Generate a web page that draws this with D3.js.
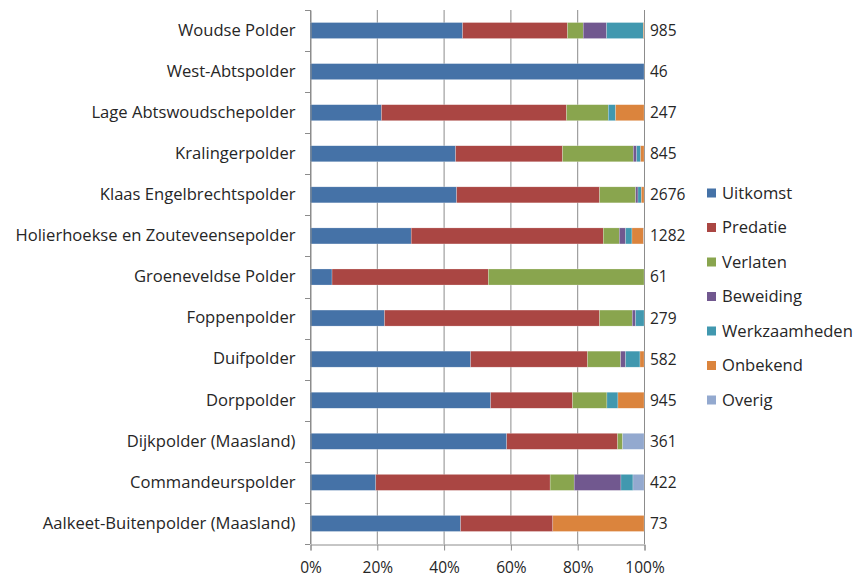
<!DOCTYPE html>
<html>
<head>
<meta charset="utf-8">
<script src="https://cdn.jsdelivr.net/npm/d3@7"></script>
<style>
  body { margin: 0; background: #fff; }
  svg text { font-family: "Open Sans", "DejaVu Sans", sans-serif; fill: #262626; }
</style>
</head>
<body>
<div id="chart"></div>
<script>
// categories, top to bottom
var polders = [
    'Woudse Polder', 'West-Abtspolder', 'Lage Abtswoudschepolder', 'Kralingerpolder',
    'Klaas Engelbrechtspolder', 'Holierhoekse en Zouteveensepolder', 'Groeneveldse Polder',
    'Foppenpolder', 'Duifpolder', 'Dorppolder', 'Dijkpolder (Maasland)',
    'Commandeurspolder', 'Aalkeet-Buitenpolder (Maasland)'
];
var totals = [985, 46, 247, 845, 2676, 1282, 61, 279, 582, 945, 361, 422, 73];

// percentage per series, same order as polders
var uitkomst      = [45.7, 100, 21.4, 43.6, 43.9, 30.3, 6.6, 22.3, 48.1, 54.1, 58.9, 19.7, 45.1];
var predatie      = [31.4, 0, 55.4, 32.0, 42.8, 57.5, 46.8, 64.4, 35.0, 24.5, 33.2, 52.2, 27.6];
var verlaten      = [4.7, 0, 12.5, 21.2, 10.8, 4.8, 46.6, 9.8, 9.9, 10.3, 1.5, 7.2, 0];
var beweiding     = [7.0, 0, 0, 1.0, 0.7, 1.9, 0, 1.0, 1.5, 0, 0, 14.0, 0];
var werkzaamheden = [11.0, 0, 2.2, 1.2, 1.0, 1.9, 0, 2.5, 4.3, 3.3, 0, 3.6, 0];
var onbekend      = [0.2, 0, 8.5, 1.0, 0.8, 3.5, 0, 0, 1.2, 7.8, 0, 0, 27.3];
var overig        = [0, 0, 0, 0, 0, 0.1, 0, 0, 0, 0, 6.4, 3.3, 0];

var seriesNames = ['Uitkomst', 'Predatie', 'Verlaten', 'Beweiding', 'Werkzaamheden', 'Onbekend', 'Overig'];
var seriesData = [uitkomst, predatie, verlaten, beweiding, werkzaamheden, onbekend, overig];
var colors = ['#4572a7', '#aa4643', '#89a54e', '#71588f', '#4198af', '#db843d', '#93a9cf'];
var xTicks = [0, 20, 40, 60, 80, 100];

var width = 865, height = 578;
var plotLeft = 310, plotRight = 644, plotTop = 10, plotBottom = 544;

//Build rows for the stack
var rows = polders.map(function (p, i) {
    var r = {polder: p};
    seriesNames.forEach(function (s, j) { r[s] = seriesData[j][i]; });
    return r;
});
var stack = d3.stack().keys(seriesNames)(rows);

var svg = d3.select('#chart').append('svg')
    .attr('width', width)
    .attr('height', height);

var x = d3.scaleLinear().domain([0, 100]).range([plotLeft, plotRight]);
var y = d3.scaleBand().domain(polders).range([plotTop, plotBottom]).paddingInner(0.61).paddingOuter(0.305);

//Vertical gridlines
svg.append('g')
    .selectAll('line')
    .data(xTicks)
    .enter()
    .append('line')
    .attr('x1', function (d) { return x(d) + 0.5; })
    .attr('x2', function (d) { return x(d) + 0.5; })
    .attr('y1', plotTop)
    .attr('y2', plotBottom)
    .attr('stroke', '#8c8c8c')
    .attr('stroke-width', 1);

//Bars
svg.append('g')
    .selectAll('g')
    .data(stack)
    .enter()
    .append('g')
    .attr('fill', function (d, i) { return colors[i]; })
    .selectAll('rect')
    .data(function (d) { return d; })
    .enter()
    .append('rect')
    .attr('x', function (d) { return x(d[0]); })
    .attr('width', function (d) { return Math.max(0, x(d[1]) - x(d[0])); })
    .attr('y', function (d) { return y(d.data.polder); })
    .attr('height', y.bandwidth())
    .attr('stroke', 'rgba(255,255,255,0.45)')
    .attr('stroke-width', 0.5);

//Y axis with category labels
var axisY = svg.append('g')
    .attr('transform', 'translate(' + (plotLeft + 0.5) + ',0)')
    .call(d3.axisLeft(y).tickSize(0).tickPadding(15));
axisY.select('.domain').attr('stroke', '#8c8c8c');
axisY.selectAll('text')
    .style('font-size', '16.6px')
    .attr('fill', '#262626');

//Tick marks between categories
var step = y.step();
svg.append('g')
    .selectAll('line')
    .data(d3.range(polders.length + 1))
    .enter()
    .append('line')
    .attr('x1', plotLeft - 5)
    .attr('x2', plotLeft)
    .attr('y1', function (d) { return Math.round(plotTop + d * step) + 0.5; })
    .attr('y2', function (d) { return Math.round(plotTop + d * step) + 0.5; })
    .attr('stroke', '#8c8c8c');

//X axis
var axisX = svg.append('g')
    .attr('transform', 'translate(0.5,' + (plotBottom + 0.5) + ')')
    .call(d3.axisBottom(x).tickValues(xTicks).tickSize(6).tickPadding(11)
        .tickFormat(function (d) { return d + '%'; }));
axisX.selectAll('line, .domain').attr('stroke', '#8c8c8c');
axisX.selectAll('text').style('font-size', '15.5px').attr('fill', '#262626');

//Totals to the right of the bars
svg.append('g')
    .selectAll('text')
    .data(totals)
    .enter()
    .append('text')
    .attr('x', plotRight + 6)
    .attr('y', function (d, i) { return y(polders[i]) + y.bandwidth() / 2; })
    .attr('dy', '0.35em')
    .style('font-size', '15.5px')
    .text(function (d) { return d; });

//Legend
var legend = svg.append('g')
    .attr('transform', 'translate(707,193)');
var item = legend.selectAll('g')
    .data(seriesNames)
    .enter()
    .append('g')
    .attr('transform', function (d, i) { return 'translate(0,' + (i * 34.5) + ')'; });
item.append('rect')
    .attr('x', 0)
    .attr('y', -4.5)
    .attr('width', 9)
    .attr('height', 9)
    .attr('fill', function (d, i) { return colors[i]; });
item.append('text')
    .attr('x', 15)
    .attr('dy', '0.35em')
    .style('font-size', '16.6px')
    .text(function (d) { return d; });
</script>
</body>
</html>
